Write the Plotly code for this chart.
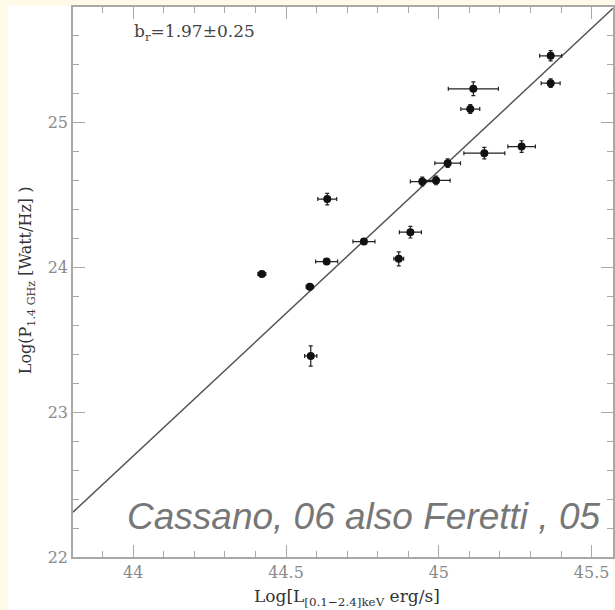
import plotly.graph_objects as go

# Radio halo power vs. cluster X-ray luminosity
log_lx = [44.421, 44.578, 44.581, 44.635, 44.633, 44.755, 44.869, 44.907, 44.946,
          44.991, 45.029, 45.103, 45.113, 45.149, 45.271, 45.366, 45.366]
log_p14 = [23.956, 23.868, 23.389, 24.473, 24.041, 24.179, 24.060, 24.244, 24.594,
           24.602, 24.721, 25.095, 25.235, 24.790, 24.836, 25.463, 25.274]
err_lx = [0.013, 0.012, 0.020, 0.031, 0.036, 0.036, 0.016, 0.036, 0.039,
          0.046, 0.042, 0.031, 0.082, 0.067, 0.045, 0.036, 0.031]
err_p14 = [0.015, 0.020, 0.070, 0.040, 0.020, 0.020, 0.048, 0.040, 0.030,
           0.030, 0.030, 0.030, 0.048, 0.040, 0.040, 0.035, 0.030]

# best-fit power law: log P = pivot_y + slope * (log L - pivot_x)
FIT_SLOPE = 1.97
FIT_PIVOT_X = 45.0
FIT_PIVOT_Y = 24.668

X_RANGE = [43.803, 45.570]
Y_RANGE = [22.0, 25.8]
X_TICKS = [44, 44.5, 45, 45.5]
X_TICK_TEXT = ["44", "44.5", "45", "45.5"]
Y_TICKS = [22, 23, 24, 25]
Y_TICK_TEXT = ["22", "23", "24", "25"]

fit_x = X_RANGE
fit_y = [FIT_PIVOT_Y + FIT_SLOPE * (x - FIT_PIVOT_X) for x in fit_x]

fig = go.Figure()

fig.add_trace(go.Scatter(
    x=fit_x, y=fit_y, mode="lines",
    line=dict(color="#555555", width=1.5),
    hoverinfo="skip", showlegend=False, cliponaxis=True,
))

fig.add_trace(go.Scatter(
    x=log_lx, y=log_p14, mode="markers",
    marker=dict(color="#111111", size=8),
    error_x=dict(type="data", array=err_lx, color="#222222", thickness=1.2, width=2),
    error_y=dict(type="data", array=err_p14, color="#222222", thickness=1.2, width=2),
    showlegend=False,
))

AXIS_COLOR = "#a8a8a8"
TICK_FONT = dict(family="DejaVu Serif", size=16, color="#8a8a8a")

fig.update_xaxes(
    range=X_RANGE, tickvals=X_TICKS, ticktext=X_TICK_TEXT,
    ticks="inside", ticklen=12, tickwidth=1.2, tickcolor=AXIS_COLOR,
    minor=dict(ticks="inside", ticklen=6, dtick=0.1, tick0=44, tickcolor=AXIS_COLOR, tickwidth=1),
    showline=True, linecolor=AXIS_COLOR, linewidth=1.5, mirror="allticks",
    showgrid=False, zeroline=False, tickfont=TICK_FONT,
)
fig.update_yaxes(
    range=Y_RANGE, tickvals=Y_TICKS, ticktext=Y_TICK_TEXT,
    ticks="inside", ticklen=12, tickwidth=1.2, tickcolor=AXIS_COLOR,
    minor=dict(ticks="inside", ticklen=6, dtick=0.2, tick0=22, tickcolor=AXIS_COLOR, tickwidth=1),
    showline=True, linecolor=AXIS_COLOR, linewidth=1.5, mirror="allticks",
    showgrid=False, zeroline=False, tickfont=TICK_FONT,
)

annotations = [
    dict(text="b<sub>r</sub>=1.97±0.25", x=0.225, y=0.9545, xref="paper", yref="paper",
         xanchor="center", yanchor="middle", showarrow=False,
         font=dict(family="DejaVu Serif", size=17, color="#444444")),
    dict(text="<i>Cassano, 06 also Feretti , 05</i>", x=0.538, y=0.0745,
         xref="paper", yref="paper", xanchor="center", yanchor="middle", showarrow=False,
         font=dict(family="Liberation Sans", size=37, color="#777777")),
    dict(text="Log[L<sub>[0.1−2.4]keV</sub> erg/s]", x=0.507, y=-0.0745,
         xref="paper", yref="paper", xanchor="center", yanchor="middle", showarrow=False,
         font=dict(family="DejaVu Serif", size=17, color="#333333")),
    dict(text="Log(P<sub>1.4 GHz</sub> [Watt/Hz] )", x=-0.0867, y=0.5036, textangle=-90,
         xref="paper", yref="paper", xanchor="center", yanchor="middle", showarrow=False,
         font=dict(family="DejaVu Serif", size=16, color="#333333")),
]

# white page panel over the cream backdrop
shapes = [dict(type="rect", xref="paper", yref="paper",
               x0=-0.1199, x1=1.0, y0=-0.0964, y1=1.0018,
               fillcolor="white", line=dict(width=0), layer="below")]

fig.update_layout(
    width=615, height=610,
    margin=dict(l=73, r=0, t=7, b=53),
    paper_bgcolor="#FFF9E8", plot_bgcolor="white",
    annotations=annotations, shapes=shapes,
    showlegend=False,
)

fig.write_html("out.html")
